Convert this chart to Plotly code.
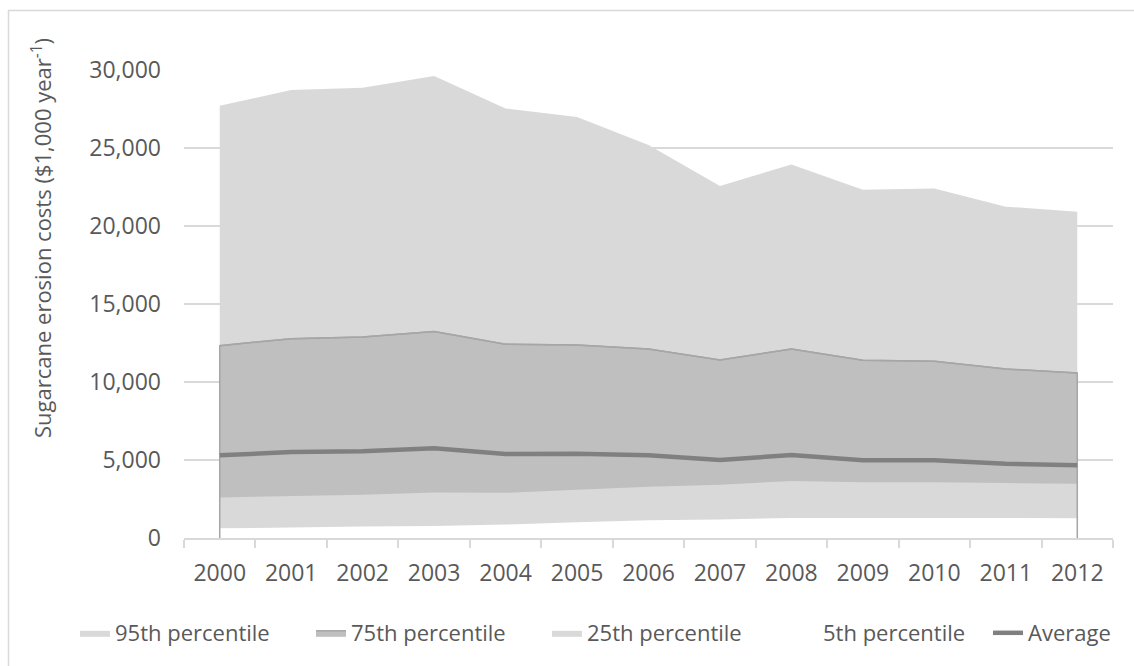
import plotly.graph_objects as go

# Annual sugarcane erosion costs ($1,000 per year), 2000-2012
years = [str(y) for y in range(2000, 2013)]
p95 = [27710, 28720, 28870, 29620, 27540, 26990, 25200, 22560, 23950, 22330, 22400, 21240, 20920]
p75 = [12330, 12780, 12885, 13230, 12415, 12370, 12115, 11410, 12115, 11390, 11325, 10835, 10580]
p25 = [2600, 2700, 2770, 2920, 2900, 3090, 3280, 3410, 3650, 3580, 3580, 3520, 3480]
p5 = [620, 690, 730, 770, 860, 1010, 1140, 1180, 1290, 1290, 1290, 1270, 1270]
average = [5300, 5510, 5555, 5750, 5385, 5400, 5300, 5000, 5320, 4980, 4980, 4765, 4660]

FONT = "Open Sans"
TXT = "#595959"
GRID = "#D9D9D9"

# plot-area geometry in pixels (used for paper-coordinate placement)
W, H = 1134, 666
L, R, T, B = 184, 21, 70, 128
PW, PH = W - L - R, H - T - B


def px_x(px):
    return (px - L) / PW


def px_y(py):
    return (H - B - py) / PH


fig = go.Figure()

fig.add_trace(go.Scatter(
    x=years, y=p95, name="95th percentile", mode="lines",
    fill="tozeroy", fillcolor="#D9D9D9", line=dict(width=0, color="#D9D9D9"),
))
fig.add_trace(go.Scatter(
    x=years, y=p75, name="75th percentile", mode="lines",
    fill="tozeroy", fillcolor="#BFBFBF", line=dict(width=1.5, color="#A6A6A6"),
))
fig.add_trace(go.Scatter(
    x=years, y=p25, name="25th percentile", mode="lines",
    fill="tozeroy", fillcolor="#D9D9D9", line=dict(width=0, color="#D9D9D9"),
))
fig.add_trace(go.Scatter(
    x=years, y=p5, name="5th percentile", mode="lines",
    fill="tozeroy", fillcolor="#FFFFFF", line=dict(width=0, color="#FFFFFF"),
))
# outline of the 75th percentile area, including its vertical edges
fig.add_trace(go.Scatter(
    x=[years[0]] + years + [years[-1]], y=[0] + p75 + [0],
    mode="lines", line=dict(width=1.5, color="#A6A6A6"),
    showlegend=False, hoverinfo="skip",
))
fig.add_trace(go.Scatter(
    x=years, y=average, name="Average", mode="lines",
    line=dict(width=4.5, color="#808080"), legend="legend2",
))

legend_common = dict(
    orientation="h", xanchor="left", yanchor="middle", y=px_y(633),
    font=dict(family=FONT, size=22, color=TXT),
    bgcolor="rgba(0,0,0,0)", traceorder="normal",
)

fig.update_layout(
    width=W, height=H,
    margin=dict(l=L, r=R, t=T, b=B),
    paper_bgcolor="white", plot_bgcolor="white",
    font=dict(family=FONT, size=23, color=TXT),
    showlegend=True,
    legend=dict(legend_common, x=px_x(75), entrywidth=191, entrywidthmode="pixels"),
    legend2=dict(legend_common, x=px_x(988)),
    xaxis=dict(
        type="category", range=[-0.5, 12.5],
        showgrid=False, showline=True, linecolor=GRID, linewidth=1.5,
        ticks="outside", tickson="boundaries", ticklen=8, tickcolor=GRID, tickwidth=1.5,
        ticklabelstandoff=14,
        tickfont=dict(family=FONT, size=23, color=TXT),
    ),
    yaxis=dict(
        range=[0, 30000], dtick=5000, tickformat=",",
        showgrid=True, gridcolor=GRID, gridwidth=1.5,
        zeroline=False, showline=False, ticks="",
        ticklabelstandoff=22,
        tickfont=dict(family=FONT, size=23, color=TXT),
    ),
    annotations=[dict(
        text="Sugarcane erosion costs ($1,000 year<sup>-1</sup>)",
        xref="paper", yref="paper", x=px_x(42), y=px_y(238),
        xanchor="center", yanchor="middle", textangle=-90, showarrow=False,
        font=dict(family=FONT, size=22, color=TXT),
    )],
    shapes=[dict(
        type="rect", xref="paper", yref="paper",
        x0=px_x(8.5), x1=px_x(1250), y0=px_y(760), y1=px_y(10.5),
        line=dict(color=GRID, width=1.5), fillcolor="rgba(0,0,0,0)", layer="below",
    )],
)

fig.write_html("out.html")
